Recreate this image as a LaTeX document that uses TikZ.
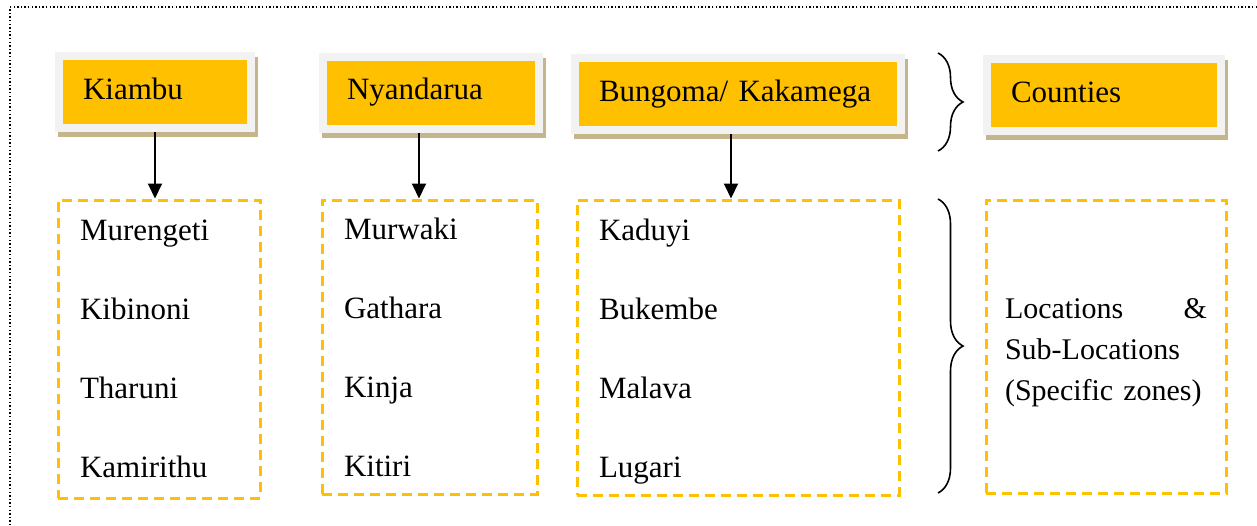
\documentclass[tikz,border=0pt]{standalone}
\usepackage{fontspec}
\setmainfont{Liberation Serif}
\usetikzlibrary{arrows.meta,decorations.pathreplacing,backgrounds}
\definecolor{gold}{HTML}{FFC000}
\definecolor{framegray}{HTML}{F2F2F2}
\definecolor{shadowtan}{HTML}{C4B58C}

\begin{document}
\begin{tikzpicture}[x=0.5pt,y=-0.5pt,
	county/.style={fill=gold,draw=framegray,line width=4pt,minimum height=36pt,inner xsep=12pt,align=left,text height=10.8pt,text depth=3.4pt,font=\fontsize{15.5}{18}\selectfont},
	zone/.style={draw=gold,line width=1.5pt,dash pattern=on 5pt off 3pt,inner xsep=11pt,align=left,font=\fontsize{15.5}{39.5}\selectfont},
	link/.style={line width=1pt,-{Triangle[width=7pt,length=7.5pt]}},
	curly/.style={line width=0.8pt,decorate,decoration={brace,amplitude=12.5pt}}]
	\useasboundingbox (0,0) rectangle (1257,525);
	
	%OUTER FRAME
	\draw[line width=0.7pt,dash pattern=on 0.7pt off 1.1pt] (1257,7)--(10,7)--(10,525);
	
	%COUNTIES
	\node[county,text width=72pt] (kiambu) at (155,92) {Kiambu};
	\node[county,text width=84pt] (nyandarua) at (431,92.5) {Nyandarua};
	\node[county,text width=139pt] (bungoma) at (738,94) {Bungoma/ Kakamega};
	\node[county,text width=93pt] (counties) at (1104,95) {Counties};
	
	%SHADOWS
	\begin{scope}[on background layer]
	\foreach \n in {kiambu,nyandarua,bungoma,counties}
		\fill[shadowtan] ([shift={(3,5)}]\n.north west) rectangle ([shift={(3,5)}]\n.south east);
	\end{scope}
	
	%LOCATIONS
	\node[zone,text width=79pt,minimum height=149pt] (kiambuzone) at (159,349) {Murengeti\\Kibinoni\\Tharuni\\Kamirithu};
	\node[zone,text width=85.5pt,minimum height=147pt] (nyandaruazone) at (429.5,347) {Murwaki\\Gathara\\Kinja\\Kitiri};
	\node[zone,text width=139pt,minimum height=147.5pt] (bungomazone) at (738,347.5) {\rule{0pt}{14.6pt}Kaduyi\\Bukembe\\Malava\\Lugari};
	\node[zone,text width=101pt,inner xsep=9.5pt,minimum height=146.5pt,font=\fontsize{15}{20.5}\selectfont] (zones) at (1106,346.5) {\rule{0pt}{16.2pt}Locations\hfill\&\\Sub-Locations\\(Specific zones)};
	
	%ARROWS
	\draw[link] (kiambu.south)--(kiambu.south |- kiambuzone.north);
	\draw[link] ([xshift=-6pt]nyandarua.south)--([xshift=-6pt]nyandarua.south |- nyandaruazone.north);
	\draw[link] ([xshift=-3.5pt]bungoma.south)--([xshift=-3.5pt]bungoma.south |- bungomazone.north);
	
	%BRACES
	\draw[curly] (938,53)--(938,151);
	\draw[curly] (938,199)--(938,493);
\end{tikzpicture}
\end{document}
